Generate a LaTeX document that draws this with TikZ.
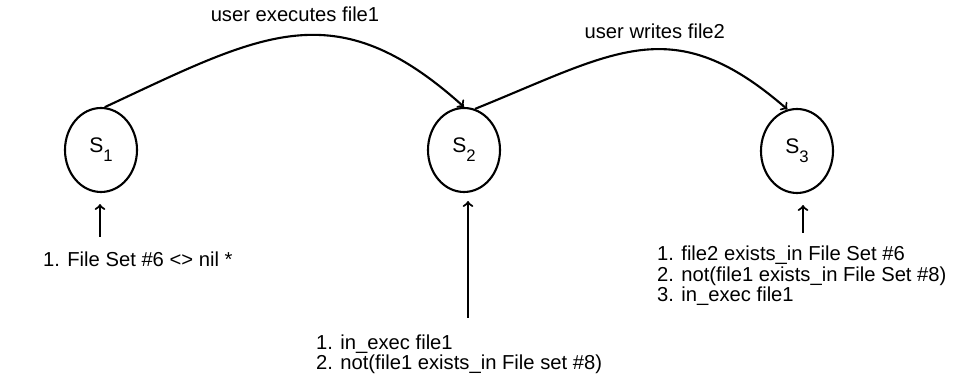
\documentclass[tikz,border=0pt]{standalone}
\usepackage{fontspec}
\setmainfont{Liberation Sans}
\usetikzlibrary{shapes.geometric}

\newcommand{\statename}[1]{S\raisebox{-5pt}{\fontsize{9.5}{9.5}\selectfont #1}}

\begin{document}
\begin{tikzpicture}[
    line width=1.2pt,
    font=\fontsize{11.5}{9.7}\selectfont,
    state/.style={draw, ellipse, minimum width=1.44cm, minimum height=1.68cm,
      inner sep=0pt, font=\fontsize{12}{12}\selectfont},
    cond/.style={align=left, inner sep=0pt, anchor=west},
  ]
  \useasboundingbox (0,0) rectangle (19.34,7.74);

  % the three states
  \node [state] (s1) at (2.02,4.74) {\statename{1}};
  \node [state] (s2) at (9.28,4.74) {\statename{2}};
  \node [state] (s3) at (15.94,4.72) {\statename{3}};

  % transitions
  \draw [->] (s1.85) to [out=25,in=138,looseness=1.24]
    node [above=4pt] (exec) {user executes file1} (s2.north);
  \draw [->] (s2.75) to [out=22,in=139,looseness=1.25]
    node [pos=0.55,above=2pt] (write) {user writes file2} (s3.103);

  % conditions under each state
  \node [cond] (c1) at (0.84,2.56) {1. File Set \#6 <> nil *};
  \node [cond] (c2) at (6.30,0.66)
    {1. in\_exec file1\\2. not(file1 exists\_in File set \#8)};
  \node [cond] (c3) at (13.12,2.22)
    {1. file2 exists\_in File Set \#6\\2. not(file1 exists\_in File Set \#8)\\3. in\_exec file1};

  \coordinate (t1) at (2.00,3.00);
  \coordinate (t2) at (9.36,1.38);
  \coordinate (t3) at (16.06,3.08);
  \draw [->, shorten >=0.22cm] (t1) -- (t1 |- s1.south);
  \draw [->, shorten >=0.16cm] (t2) -- (t2 |- s2.south);
  \draw [->, shorten >=0.22cm] (t3) -- (t3 |- s3.south);
\end{tikzpicture}
\end{document}
